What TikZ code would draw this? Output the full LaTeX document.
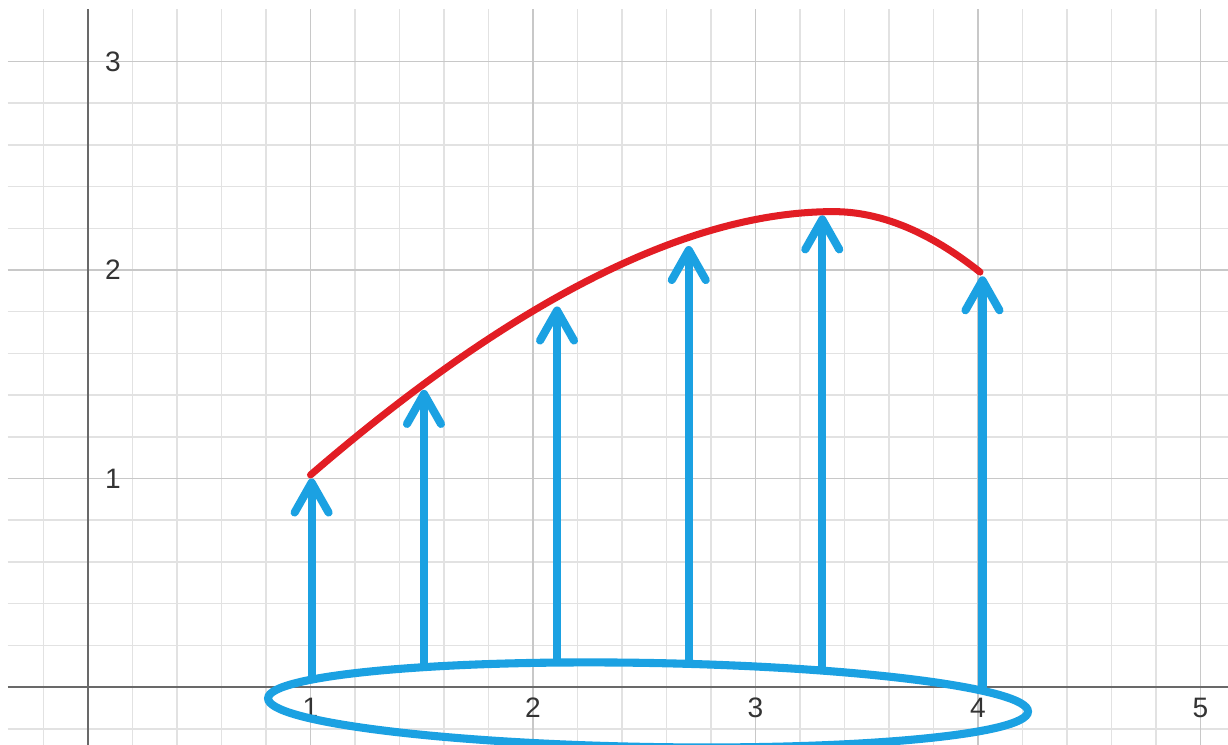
\documentclass[tikz,border=0pt]{standalone}
\usepackage{fontspec}
\newfontfamily\labelfont{Liberation Sans}
\usepackage{tikz}
\usetikzlibrary{arrows.meta,calc}
\usepackage{xcolor}
\definecolor{gridgray}{RGB}{226,226,226}
\definecolor{majorgray}{RGB}{200,200,200}
\definecolor{axisgray}{RGB}{105,105,105}
\definecolor{liftblue}{RGB}{27,161,226}
\definecolor{curvered}{RGB}{226,29,36}

\begin{document}
\begin{tikzpicture}[
      x=2.225cm,y=2.085cm,
      gridline/.style={draw=gridgray,line width=0.45pt},
      majorline/.style={draw=majorgray,line width=0.55pt},
      axisline/.style={draw=axisgray,line width=0.7pt},
      ticklabel/.style={font=\labelfont\fontsize{8}{9.6}\selectfont,text=black!80,inner sep=0pt},
      liftarrow/.style={-{Straight Barb[length=3mm,width=3.4mm,round]},line width=2.3pt,color=liftblue},
      basering/.style={draw=liftblue,line width=2.3pt},
      graphcurve/.style={draw=curvered,line width=2pt,line cap=round}
    ]
      \useasboundingbox[fill=white] (-0.3955,-0.2734) rectangle (5.1236,3.295);

      \foreach \i in {-1,...,25}
        \draw[gridline] (\i/5,-0.28) -- (\i/5,3.252);
      \foreach \j in {-1,...,15}
        \draw[gridline] (-0.36,\j/5) -- (5.13,\j/5);
      \foreach \i in {1,...,5}
        \draw[majorline] (\i,-0.28) -- (\i,3.252);
      \foreach \j in {1,...,3}
        \draw[majorline] (-0.36,\j) -- (5.13,\j);
      \draw[axisline] (-0.36,0) -- (5.13,0);
      \draw[axisline] (0,-0.28) -- (0,3.252);

      \foreach \i in {1,...,5}
        \node[ticklabel] (x\i) at (\i,-0.1) {\i};
      \foreach \j in {1,...,3}
        \node[ticklabel] (y\j) at (0.112,\j) {\j};

      \coordinate (cstart) at (1.0,1.017);
      \coordinate (cpeak) at (3.35,2.28);
      \coordinate (cend) at (4.009,1.99);
      \draw[graphcurve] (cstart) .. controls (1.915,1.859) and (2.699,2.28) .. (cpeak)
                                 .. controls (3.562,2.28) and (3.782,2.183) .. (cend);

      \coordinate (ringc) at (2.517,-0.086);
      \draw[basering,rotate around={-1:(ringc)}] (ringc) ellipse [x radius=3.8cm,y radius=0.42cm];

      \foreach \n/\xx/\yb/\yt in {1/1.005/0.02/1.0, 2/1.51/0.08/1.425, 3/2.108/0.115/1.825,
                                  4/2.70/0.12/2.115, 5/3.30/0.085/2.262, 6/4.02/-0.02/1.97}{
        \coordinate (b\n) at (\xx,\yb);
        \coordinate (t\n) at (\xx,\yt);
        \draw[liftarrow] (b\n) -- (t\n);
      }
    \end{tikzpicture}
\end{document}
